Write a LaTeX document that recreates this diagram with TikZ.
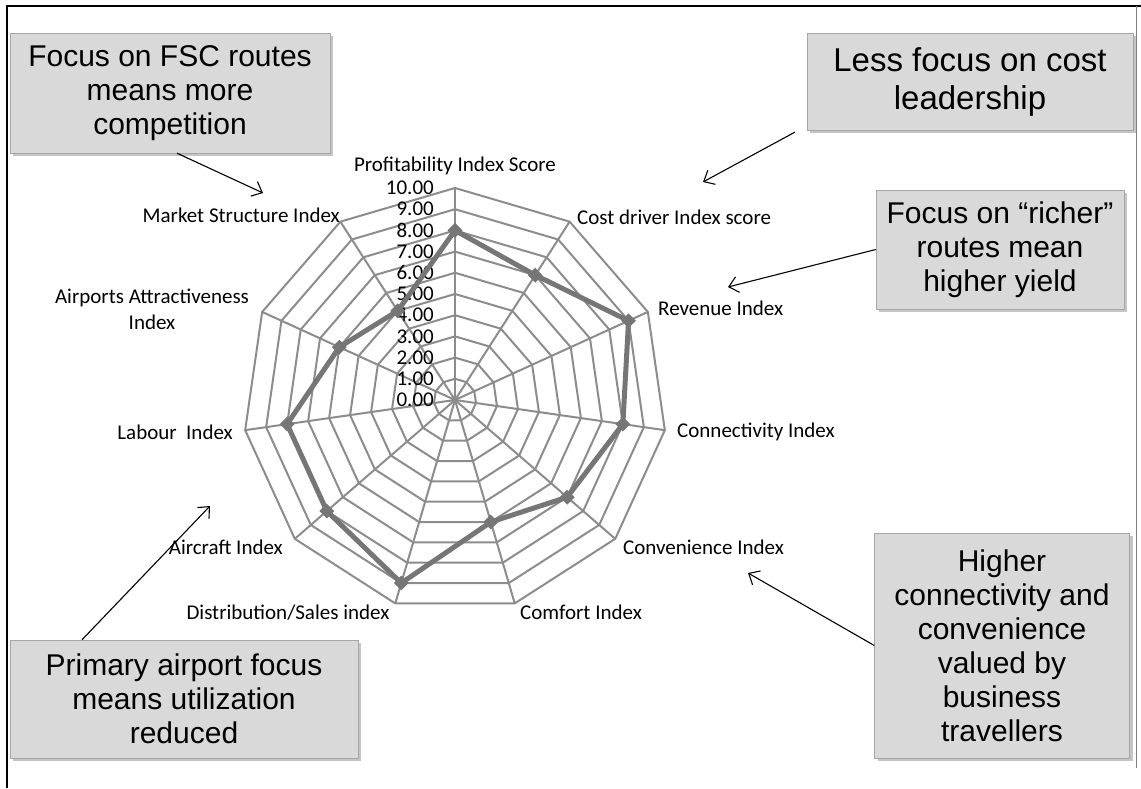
\documentclass[tikz,border=0pt]{standalone}
\usepackage{fontspec}
\usepackage{tikz}
\usetikzlibrary{shapes.geometric,shadows,arrows.meta}
\newfontfamily\calloutfont{Liberation Sans}
\newfontfamily\chartfont{Carlito}
\definecolor{boxgray}{RGB}{217,217,217}
\definecolor{gridgray}{RGB}{140,140,140}
\definecolor{datagray}{RGB}{118,118,118}

\begin{document}
\begin{tikzpicture}[x=1pt,y=1pt,
    callout/.style={draw=gray!70, fill=boxgray, align=center, inner sep=0pt,
      font=\calloutfont\fontsize{30}{34}\selectfont,
      drop shadow={shadow xshift=3pt,shadow yshift=-3pt,fill=black!45}},
    axislabel/.style={font=\chartfont\fontsize{21}{26}\selectfont, inner sep=1pt},
    gridline/.style={gridgray, line width=2pt, line join=round},
    dataline/.style={datagray, line width=5pt, line join=round},
    pointer/.style={-{Straight Barb[length=9pt,width=16pt]}, line width=1.1pt}]
  \useasboundingbox (0,0) rectangle (1141,788);
  % frame
  \draw[line width=1.8pt] (1141,782) -- (7,782) -- (7,0);
  \draw[gray, line width=1pt] (1136,782) -- (1136,20);

  % radar chart
  \begin{scope}[shift={(455,388)}]
    \foreach \r in {1,...,10}
      \draw[gridline] (90:{\r*21.2}) \foreach \k in {1,...,10} { -- ({90-\k*360/11}:{\r*21.2}) } -- cycle;
    \foreach \k in {0,...,10}
      \draw[gridline] (0,0) -- ({90-\k*360/11}:212);
    \foreach \v in {0,...,10}
      \node[axislabel, anchor=east] (val\v) at (-20,{\v*21.2}) {\v.00};
    \foreach \s [count=\k from 0] in {8,7,9,8,7,6,9,8,8,6,5}
      \coordinate (pt\k) at ({90-\k*360/11}:{\s*21.2});
    \draw[dataline] (pt0) \foreach \k in {1,...,10} { -- (pt\k) } -- cycle;
    \foreach \k in {0,...,10}
      \node[diamond, fill=datagray, inner sep=0pt, minimum size=15pt] (mk\k) at (pt\k) {};
  \end{scope}

  % axis labels
  \node[axislabel] (prof) at (455,622) {Profitability Index Score};
  \node[axislabel, anchor=west] (cost) at (576,571) {Cost driver Index score};
  \node[axislabel, anchor=west] (rev) at (657,480) {Revenue Index};
  \node[axislabel, anchor=west] (conn) at (676,356) {Connectivity Index};
  \node[axislabel, anchor=west] (conv) at (622,241) {Convenience Index};
  \node[axislabel, anchor=west] (comf) at (519,176) {Comfort Index};
  \node[axislabel] (dist) at (288,175) {Distribution/Sales index};
  \node[axislabel, anchor=east] (airc) at (284,241) {Aircraft Index};
  \node[axislabel, anchor=east] (lab) at (234,356) {Labour~~Index};
  \node[axislabel, align=center] (airp) at (152,479) {Airports Attractiveness\\Index};
  \node[axislabel, anchor=east] (mkt) at (341,573) {Market Structure Index};

  % callouts
  \node[callout, minimum width=320pt, minimum height=120pt] (fsc) at (170,695)
    {Focus on FSC routes\\means more\\competition};
  \node[callout, minimum width=326pt, minimum height=97pt,
        font=\calloutfont\fontsize{33}{38}\selectfont] (less) at (970,706.5)
    {Less focus on cost\\leadership};
  \node[callout, minimum width=248pt, minimum height=119pt] (richer) at (1000,538.5)
    {Focus on “richer”\\routes mean\\higher yield};
  \node[callout, minimum width=348pt, minimum height=118pt] (primary) at (184,89)
    {Primary airport focus\\means utilization\\reduced};
  \node[callout, minimum width=255pt, minimum height=225pt] (higher) at (1002,142.5)
    {Higher\\connectivity and\\convenience\\valued by\\business\\travellers};

  % pointers
  \coordinate (t1) at (263,595);
  \coordinate (t2) at (703,606);
  \coordinate (t3) at (728,501);
  \coordinate (t4) at (210,282);
  \coordinate (t5) at (748,215);
  \draw[pointer] ([xshift=7pt]fsc.south) -- (t1);
  \draw[pointer] ([xshift=-12pt,yshift=-2pt]less.south west) -- (t2);
  \draw[pointer] (richer.west) -- (t3);
  \draw[pointer] ([xshift=-102pt]primary.north) -- (t4);
  \draw[pointer] (higher.west) -- (t5);
\end{tikzpicture}
\end{document}
